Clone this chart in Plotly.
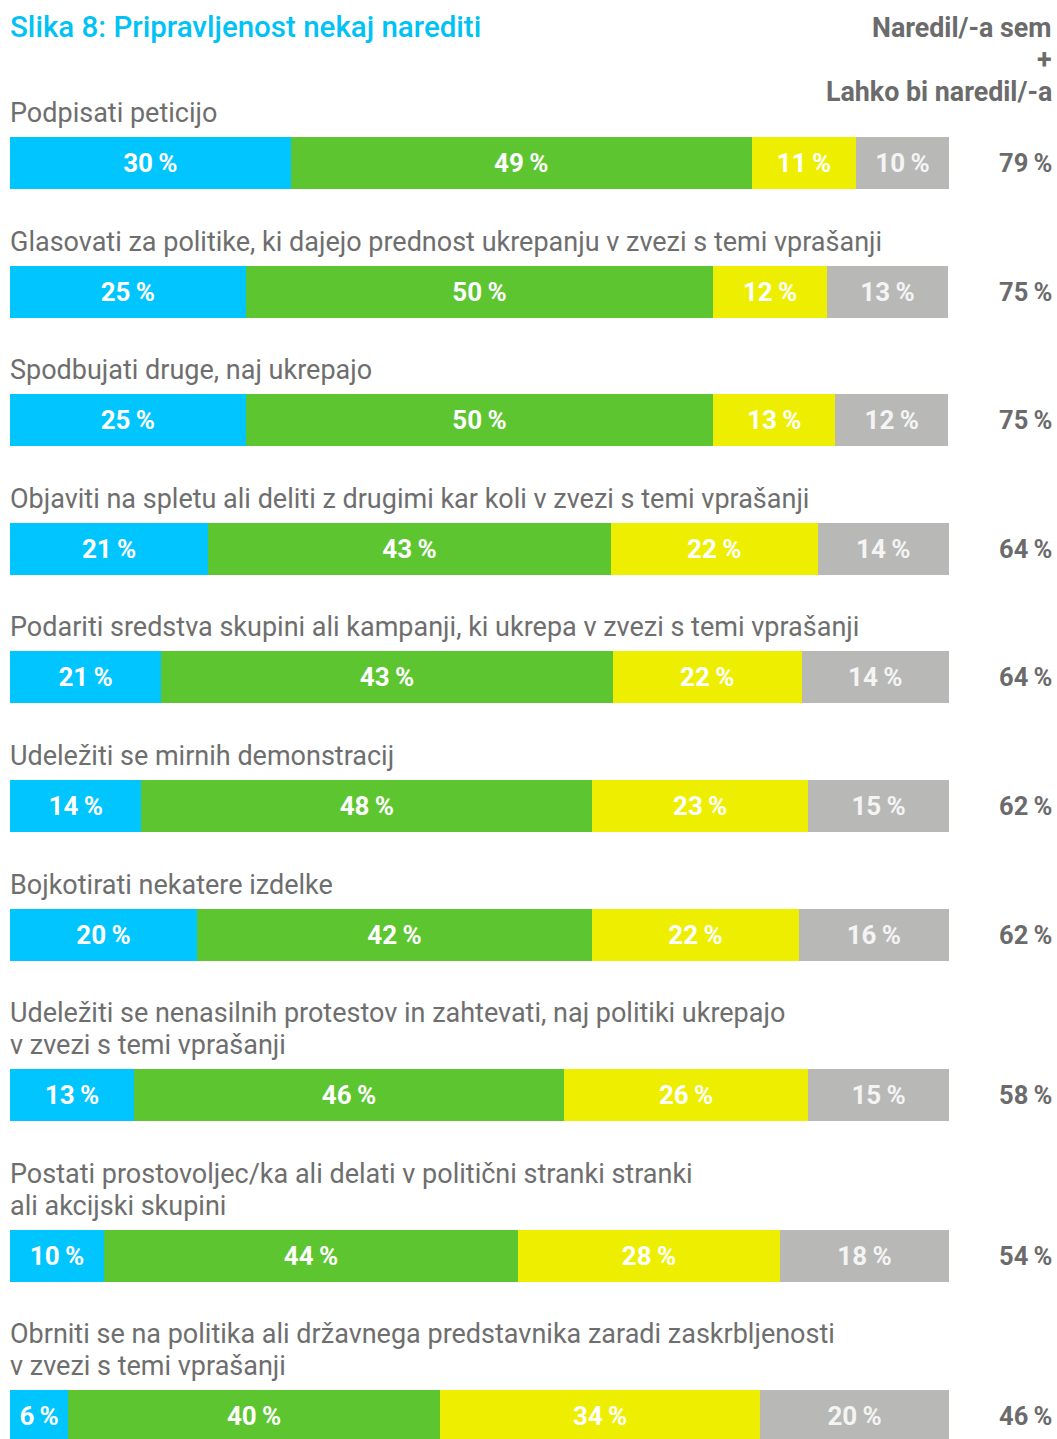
import plotly.graph_objects as go

# ---- data ----
categories = [
    "Podpisati peticijo",
    "Glasovati za politike, ki dajejo prednost ukrepanju v zvezi s temi vprašanji",
    "Spodbujati druge, naj ukrepajo",
    "Objaviti na spletu ali deliti z drugimi kar koli v zvezi s temi vprašanji",
    "Podariti sredstva skupini ali kampanji, ki ukrepa v zvezi s temi vprašanji",
    "Udeležiti se mirnih demonstracij",
    "Bojkotirati nekatere izdelke",
    "Udeležiti se nenasilnih protestov in zahtevati, naj politiki ukrepajo<br>v zvezi s temi vprašanji",
    "Postati prostovoljec/ka ali delati v politični stranki stranki<br>ali akcijski skupini",
    "Obrniti se na politika ali državnega predstavnika zaradi zaskrbljenosti<br>v zvezi s temi vprašanji",
]
# segment sizes as drawn
cyan_w = [29.9, 25.1, 25.1, 21.1, 16.1, 14.0, 19.9, 13.2, 10.0, 6.2]
green_w = [49.1, 49.8, 49.8, 42.9, 48.1, 48.0, 42.1, 45.8, 44.1, 39.6]
yellow_w = [11.1, 12.1, 13.0, 22.0, 20.1, 23.0, 22.0, 26.0, 27.9, 34.1]
gray_w = [9.9, 12.9, 12.0, 14.0, 15.7, 15.0, 16.0, 15.0, 18.0, 20.1]
# printed labels
cyan_lbl = [30, 25, 25, 21, 21, 14, 20, 13, 10, 6]
green_lbl = [49, 50, 50, 43, 43, 48, 42, 46, 44, 40]
yellow_lbl = [11, 12, 13, 22, 22, 23, 22, 26, 28, 34]
gray_lbl = [10, 13, 12, 14, 14, 15, 16, 15, 18, 20]
totals = [79, 75, 75, 64, 64, 62, 62, 58, 54, 46]

title = "Slika 8: Pripravljenost nekaj narediti"
header_lines = ["Naredil/-a sem", "+", "Lahko bi naredil/-a"]

# ---- layout helpers ----
W, H = 1057, 1439
LEFT, RIGHT_EDGE = 10, 949
FIRST_CENTER, STEP, LINE = 163, 128.6, 32
BAR_H = 52

cat_lines = [c.split("<br>") for c in categories]
ypos = []
y = FIRST_CENTER
for i, ls in enumerate(cat_lines):
    if i > 0:
        y += STEP + LINE * (len(ls) - 1)
    ypos.append(y)

FONT = "Roboto"
colors = ["#00C5FF", "#5DC530", "#EEEE00", "#B8B8B7"]
series = [(cyan_w, cyan_lbl), (green_w, green_lbl), (yellow_w, yellow_lbl), (gray_w, gray_lbl)]
txtcol = ["#FFFFFF", "#FFFFFF", "#FFFFFF", "#F4F4F4"]

fig = go.Figure()
for (w, lbl), col, tc in zip(series, colors, txtcol):
    fig.add_trace(go.Bar(
        x=w, y=ypos, orientation="h", width=BAR_H,
        marker=dict(color=col, line=dict(width=0)),
        text=[f"{v}\u2009%" for v in lbl],
        textposition="inside", insidetextanchor="middle",
        textangle=0, constraintext="none",
        textfont=dict(family=FONT, size=26, color=tc, weight=700),
        hoverinfo="skip", showlegend=False,
    ))

px2paper = lambda px: (px - LEFT) / (RIGHT_EDGE - LEFT)
ann = []
ann.append(dict(text=title, x=0, y=27, xref="paper", yref="y", xanchor="left", yanchor="middle",
                xshift=-2, showarrow=False, font=dict(family=FONT, size=29.5, color="#00C2F5", weight=500)))
for k, hl in enumerate(header_lines):
    ann.append(dict(text=hl, x=px2paper(1054), y=28 + LINE * k, xref="paper", yref="y", xanchor="right",
                    yanchor="middle", align="right", showarrow=False,
                    font=dict(family=FONT, size=26.8, color="#6B6B6B", weight=700)))
for ls, yc, t in zip(cat_lines, ypos, totals):
    n = len(ls)
    for k, txt in enumerate(ls):
        ann.append(dict(text=txt, x=0, y=yc - 50 - LINE * (n - 1 - k), xref="paper", yref="y",
                        xanchor="left", yanchor="middle", align="left", showarrow=False, xshift=-2,
                        font=dict(family=FONT, size=27, color="#6E6E6E")))
    ann.append(dict(text=f"{t}\u2009%", x=px2paper(1054), y=yc, xref="paper", yref="y",
                    xanchor="right", yanchor="middle", showarrow=False,
                    font=dict(family=FONT, size=25.5, color="#6B6B6B", weight=700)))

fig.update_layout(
    width=W, height=H, autosize=False,
    barmode="stack",
    margin=dict(l=LEFT, r=W - RIGHT_EDGE, t=0, b=0, pad=0),
    paper_bgcolor="white", plot_bgcolor="white",
    xaxis=dict(range=[0, 100], visible=False, fixedrange=True),
    yaxis=dict(range=[H, 0], visible=False, fixedrange=True),
    annotations=ann,
)
fig.write_html(
    "out.html",
    config={"displayModeBar": False},
    post_script="document.body.style.margin='0';document.body.style.overflow='hidden';"
                "document.documentElement.style.overflow='hidden';",
)
